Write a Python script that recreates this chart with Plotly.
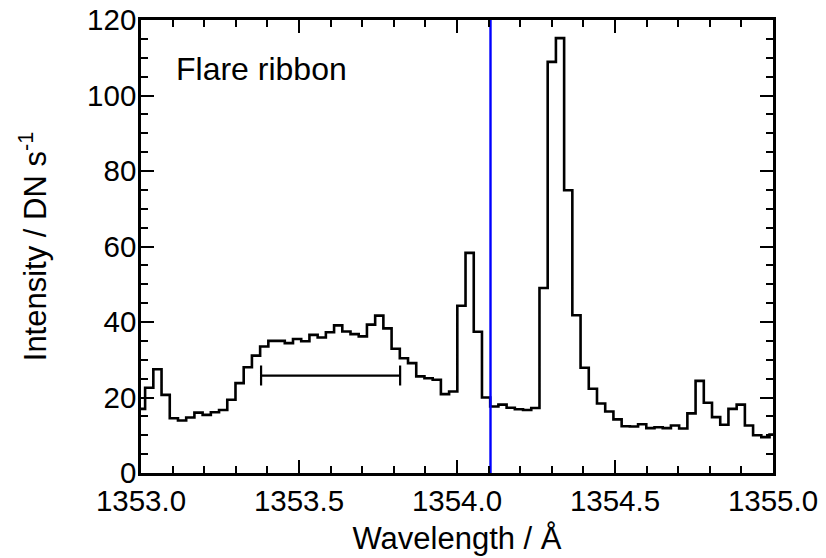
import numpy as np
import plotly.graph_objects as go

# Spectral grid (uniform dispersion)
WL_START = 1353.0
WL_STEP = 0.0260

# Intensity per spectral bin (DN s^-1)
intensity = [
    17.0, 22.6, 27.5, 20.7, 14.5, 13.9, 14.7, 16.0, 15.4, 16.1,
    16.7, 19.4, 23.8, 28.0, 31.1, 33.5, 35.0, 35.0, 34.4, 35.5,
    34.9, 36.6, 35.9, 37.3, 39.1, 37.5, 36.8, 36.2, 39.3, 41.7,
    38.3, 32.9, 30.4, 29.1, 25.6, 25.1, 24.7, 20.9, 21.6, 44.3,
    58.3, 37.4, 20.0, 17.6, 18.1, 17.3, 16.9, 16.7, 17.2, 49.0,
    108.9, 115.2, 74.9, 41.8, 27.9, 22.3, 18.4, 16.3, 14.2, 12.4,
    12.3, 12.9, 11.9, 12.1, 11.9, 12.6, 11.8, 15.8, 24.4, 18.6,
    14.8, 12.8, 17.0, 18.1, 12.6, 10.0, 9.5, 10.2,
]
wavelength = WL_START + WL_STEP * np.arange(len(intensity))

# Fe XXI rest wavelength marker
rest_wl = 1354.106

# Horizontal error-bar (width marker)
bar_center = [1353.60]
bar_level = [25.8]
bar_halfwidth = [0.22]

x_ticks = [1353.0, 1353.5, 1354.0, 1354.5, 1355.0]
x_ticklabels = ["1353.0", "1353.5", "1354.0", "1354.5", "1355.0"]
y_ticks = [0, 20, 40, 60, 80, 100, 120]

FONT = "Liberation Sans, Arial, Helvetica, sans-serif"

fig = go.Figure()
fig.add_trace(go.Scatter(
    x=wavelength, y=intensity, mode="lines",
    line=dict(shape="hvh", color="black", width=2.6),
    showlegend=False, hoverinfo="skip",
))
fig.add_trace(go.Scatter(
    x=bar_center, y=bar_level, mode="markers",
    marker=dict(size=1, color="rgba(0,0,0,0)"),
    error_x=dict(type="data", array=bar_halfwidth, thickness=2.2, width=10, color="black"),
    showlegend=False, hoverinfo="skip",
))
fig.add_trace(go.Scatter(
    x=[rest_wl, rest_wl], y=[0, 120], mode="lines",
    line=dict(color="#0000ff", width=2.4),
    showlegend=False, hoverinfo="skip",
))

fig.add_annotation(
    x=1353.105, y=107, xref="x", yref="y", text="Flare ribbon",
    showarrow=False, xanchor="left", yanchor="middle",
    font=dict(family=FONT, size=32, color="black"),
)

axis_common = dict(
    showline=True, linecolor="black", linewidth=2.5, mirror="allticks",
    ticks="inside", tickcolor="black", tickwidth=2.2,
    showgrid=False, zeroline=False, automargin=False,
    tickfont=dict(family=FONT, size=29.5, color="black"),
)

fig.update_xaxes(
    range=[1353.0, 1355.0], tickvals=x_ticks, ticktext=x_ticklabels,
    ticklen=13,
    minor=dict(ticks="inside", dtick=0.1, tick0=1353.0, ticklen=7, tickwidth=2, tickcolor="black"),
    title=dict(text="Wavelength / Å", font=dict(family=FONT, size=31, color="black"), standoff=12),
    **axis_common,
)
fig.update_yaxes(
    range=[0, 120], tickvals=y_ticks, ticklen=13, ticklabelstandoff=-4,
    minor=dict(ticks="inside", dtick=5, tick0=0, ticklen=7, tickwidth=2, tickcolor="black"),
    title=dict(text="Intensity / DN s<sup>-1</sup>", font=dict(family=FONT, size=31, color="black"), standoff=32),
    **axis_common,
)

fig.update_layout(
    width=826, height=558,
    margin=dict(l=141, r=53, t=20, b=85),
    paper_bgcolor="white", plot_bgcolor="white",
    showlegend=False,
)

fig.write_html("out.html")
